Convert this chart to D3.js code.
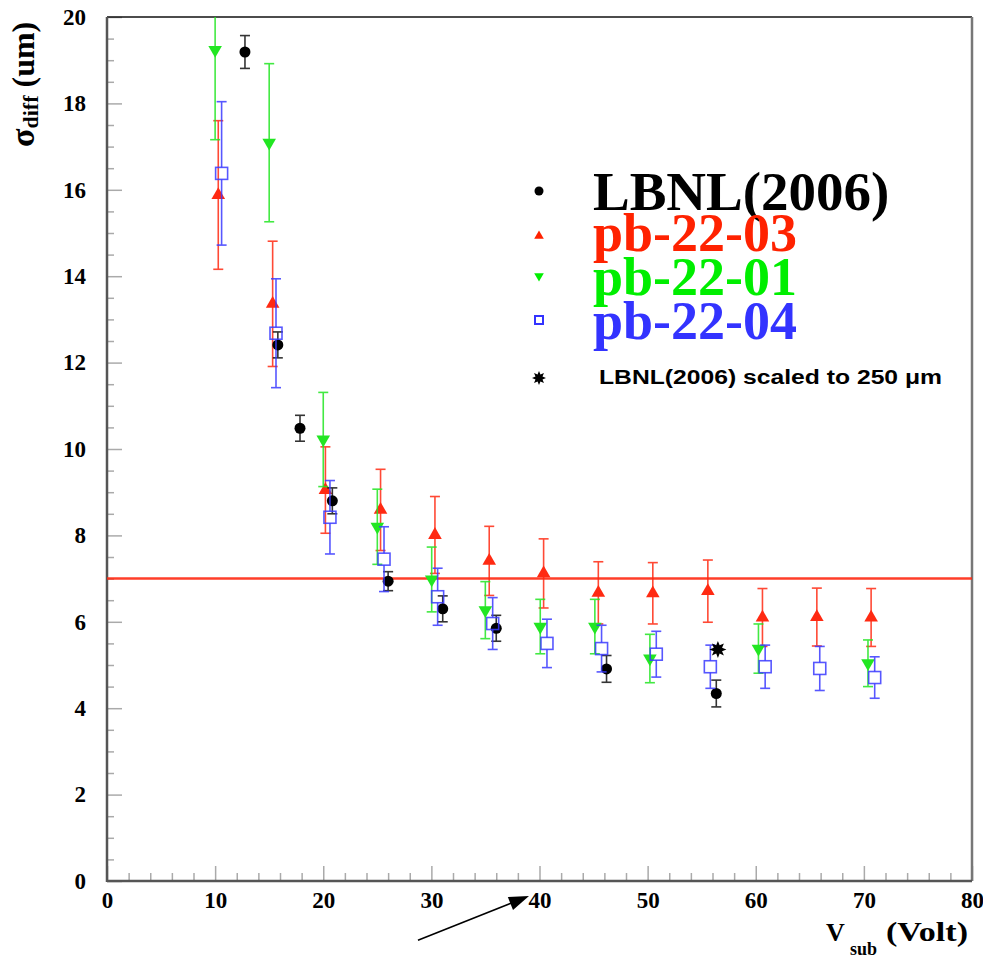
<!DOCTYPE html>
<html>
<head>
<meta charset="utf-8">
<script src="https://cdn.jsdelivr.net/npm/d3@7"></script>
<style>
  body { margin: 0; background: #fff; }
  svg { display: block; }
</style>
</head>
<body>
<svg id="chart" width="983" height="958"></svg>
<script>
// values: [Vsub, sigma, error]
var lbnl = [
  [12.76, 19.19, 0.38], [15.8, 12.41, 0.3], [17.85, 10.48, 0.3], [20.84, 8.80, 0.3],
  [26.0, 6.94, 0.22], [31.05, 6.30, 0.3], [36.0, 5.85, 0.3], [46.2, 4.91, 0.31],
  [56.35, 4.34, 0.31]
];
var pb2203 = [
  [10.29, 15.88, 1.72], [15.32, 13.36, 1.45], [20.2, 9.05, 1.0], [25.3, 8.59, 0.94],
  [30.33, 8.01, 0.89], [35.35, 7.41, 0.8], [40.38, 7.12, 0.8], [45.44, 6.67, 0.72],
  [50.48, 6.66, 0.71], [55.57, 6.71, 0.72], [60.62, 6.10, 0.67], [65.65, 6.11, 0.67],
  [70.67, 6.10, 0.67]
];
var pb2201 = [
  [10.0, 19.24, 2.08], [15.0, 17.09, 1.83], [20.0, 10.22, 1.09], [25.0, 8.20, 0.87],
  [30.03, 6.98, 0.75], [34.99, 6.27, 0.66], [40.07, 5.89, 0.63], [45.12, 5.89, 0.63],
  [50.21, 5.15, 0.56], [60.25, 5.38, 0.57], [70.38, 5.04, 0.54]
];
var pb2204 = [
  [10.6, 16.38, 1.66], [15.63, 12.68, 1.26], [20.62, 8.42, 0.85], [25.62, 7.45, 0.75],
  [30.58, 6.58, 0.66], [35.67, 5.96, 0.6], [40.69, 5.50, 0.56], [45.74, 5.38, 0.54],
  [50.8, 5.25, 0.53], [55.8, 4.96, 0.5], [60.87, 4.96, 0.5], [65.92, 4.92, 0.51],
  [71.0, 4.71, 0.48]
];
var scaled = [[56.5, 5.36]];   // LBNL(2006) scaled to 250 um
var fitLevel = 7;
var arrowLine = [[28.76, -1.37], [39.03, -0.35]];

var xMajor = [0, 10, 20, 30, 40, 50, 60, 70, 80];
var yMajor = [0, 2, 4, 6, 8, 10, 12, 14, 16, 18, 20];

var legendItems = [
  {name: "LBNL(2006)", col: "#000000", mark: "circle"},
  {name: "pb-22-03", col: "#ff2200", mark: "up"},
  {name: "pb-22-01", col: "#00ee00", mark: "down"},
  {name: "pb-22-04", col: "#3333ff", mark: "square"}
];

var cRed = "#ff2a12", cGreen = "#22e622", cBlue = "#3a3aff";

var pLeft = 107, pRight = 972, pTop = 17, pBottom = 881;
var x = d3.scaleLinear().domain([0, 80]).range([pLeft, pRight]);
var y = d3.scaleLinear().domain([0, 20]).range([pBottom, pTop]);

var svg = d3.select("#chart");

svg.append("defs").append("clipPath").attr("id", "plotclip")
  .append("rect").attr("x", pLeft).attr("y", pTop).attr("width", pRight - pLeft).attr("height", pBottom - pTop);

// minor ticks
var yMinor = d3.range(0, 20.01, 0.5).filter(d => yMajor.indexOf(d) < 0);
var xMinor = d3.range(0, 80.01, 2).filter(d => xMajor.indexOf(d) < 0);

svg.append("g").attr("transform", "translate(" + pLeft + ",0)")
  .call(d3.axisLeft(y).tickValues(yMinor).tickSize(-7).tickFormat(""))
  .call(g => g.select(".domain").remove())
  .call(g => g.selectAll("line").attr("stroke", "#aaa").attr("stroke-width", 1.5));
svg.append("g").attr("transform", "translate(0," + pBottom + ")")
  .call(d3.axisBottom(x).tickValues(xMinor).tickSize(-8).tickFormat(""))
  .call(g => g.select(".domain").remove())
  .call(g => g.selectAll("line").attr("stroke", "#aaa").attr("stroke-width", 1.5));

// major ticks + labels
svg.append("g").attr("transform", "translate(" + pLeft + ",0)")
  .call(d3.axisLeft(y).tickValues(yMajor).tickSize(-15).tickPadding(21).tickFormat(d3.format("d")))
  .call(g => g.select(".domain").remove())
  .call(g => g.selectAll("line").attr("stroke", "#aaa").attr("stroke-width", 1.5))
  .call(g => g.selectAll("text").attr("font-family", "Liberation Serif").attr("font-weight", "bold")
    .attr("font-size", 23).attr("fill", "#000"));
svg.append("g").attr("transform", "translate(0," + pBottom + ")")
  .call(d3.axisBottom(x).tickValues(xMajor).tickSize(-15).tickPadding(11).tickFormat(d3.format("d")))
  .call(g => g.select(".domain").remove())
  .call(g => g.selectAll("line").attr("stroke", "#aaa").attr("stroke-width", 1.5))
  .call(g => g.selectAll("text").attr("font-family", "Liberation Serif").attr("font-weight", "bold")
    .attr("font-size", 23).attr("fill", "#000"));

// frame
svg.append("line").attr("x1", pLeft).attr("x2", pRight).attr("y1", pTop).attr("y2", pTop)
  .attr("stroke", "#111").attr("stroke-width", 1.5);
svg.append("line").attr("x1", pRight).attr("x2", pRight).attr("y1", pTop).attr("y2", pBottom)
  .attr("stroke", "#777").attr("stroke-width", 2.5);
svg.append("line").attr("x1", pLeft).attr("x2", pLeft).attr("y1", pTop).attr("y2", pBottom + 1)
  .attr("stroke", "#555").attr("stroke-width", 2.5);
svg.append("line").attr("x1", pLeft).attr("x2", pRight).attr("y1", pBottom).attr("y2", pBottom)
  .attr("stroke", "#555").attr("stroke-width", 2.5);

var plot = svg.append("g").attr("clip-path", "url(#plotclip)");

// fit level line
plot.append("line").attr("x1", x(0)).attr("x2", x(80)).attr("y1", y(fitLevel)).attr("y2", y(fitLevel))
  .attr("stroke", cRed).attr("stroke-width", 2.5).attr("opacity", 0.9);

function errorBars(data, col, gap) {
  var g = plot.append("g").attr("stroke", col).attr("stroke-width", 1.6).attr("opacity", 0.85);
  data.forEach(function (d) {
    var cx = x(d[0]), yt = y(d[1] + d[2]), yb = y(d[1] - d[2]), yc = y(d[1]);
    if (gap) {
      g.append("line").attr("x1", cx).attr("x2", cx).attr("y1", yt).attr("y2", yc - gap);
      g.append("line").attr("x1", cx).attr("x2", cx).attr("y1", yc + gap).attr("y2", yb);
    } else {
      g.append("line").attr("x1", cx).attr("x2", cx).attr("y1", yt).attr("y2", yb);
    }
    g.append("line").attr("x1", cx - 5).attr("x2", cx + 5).attr("y1", yt).attr("y2", yt);
    g.append("line").attr("x1", cx - 5).attr("x2", cx + 5).attr("y1", yb).attr("y2", yb);
  });
}

var triUp = d3.symbol().type(d3.symbolTriangle).size(80);

errorBars(pb2203, cRed, 0);
plot.append("g").selectAll("path").data(pb2203).join("path")
  .attr("d", triUp).attr("fill", cRed)
  .attr("transform", d => "translate(" + x(d[0]) + "," + y(d[1]) + ")");

errorBars(pb2201, cGreen, 0);
plot.append("g").selectAll("path").data(pb2201).join("path")
  .attr("d", triUp).attr("fill", cGreen)
  .attr("transform", d => "translate(" + x(d[0]) + "," + y(d[1]) + ") rotate(180)");

errorBars(lbnl, "#111", 0);
plot.append("g").selectAll("circle").data(lbnl).join("circle")
  .attr("cx", d => x(d[0])).attr("cy", d => y(d[1])).attr("r", 5.5).attr("fill", "#000");

errorBars(pb2204, cBlue, 6);
plot.append("g").selectAll("rect").data(pb2204).join("rect")
  .attr("x", d => x(d[0]) - 6).attr("y", d => y(d[1]) - 6).attr("width", 12).attr("height", 12)
  .attr("fill", "none").attr("stroke", cBlue).attr("stroke-width", 1.6).attr("opacity", 0.85);

// 8-point star marker
function starPath(ro, ri) {
  var pts = d3.range(16).map(function (i) {
    var a = i * Math.PI / 8;
    var r = i % 2 ? ri : ro;
    return [a, r];
  });
  return d3.lineRadial().curve(d3.curveLinearClosed)(pts);
}
plot.append("g").selectAll("path").data(scaled).join("path")
  .attr("d", starPath(8.5, 4.5)).attr("fill", "#000")
  .attr("transform", d => "translate(" + x(d[0]) + "," + y(d[1]) + ")");

// legend
var lg = svg.append("g");
var legY = [210, 251, 295, 339];
var markY = [191, 236, 276, 320];
legendItems.forEach(function (it, i) {
  lg.append("text").attr("x", 593).attr("y", legY[i])
    .attr("font-family", "Liberation Serif").attr("font-weight", "bold")
    .attr("font-size", i === 0 ? 55 : 54).attr("fill", it.col).text(it.name);
  if (it.mark === "circle") {
    lg.append("circle").attr("cx", 539).attr("cy", markY[i]).attr("r", 4.5).attr("fill", it.col);
  } else if (it.mark === "up" || it.mark === "down") {
    lg.append("path").attr("d", d3.symbol().type(d3.symbolTriangle).size(40)).attr("fill", it.col)
      .attr("transform", "translate(539," + markY[i] + ")" + (it.mark === "down" ? " rotate(180)" : ""));
  } else {
    lg.append("rect").attr("x", 535).attr("y", markY[i] - 4).attr("width", 8).attr("height", 8)
      .attr("fill", "none").attr("stroke", it.col).attr("stroke-width", 2);
  }
});
lg.append("path").attr("d", starPath(7, 3.8)).attr("fill", "#000").attr("transform", "translate(539,378)");
lg.append("text").attr("x", 599).attr("y", 384)
  .attr("font-family", "Liberation Sans").attr("font-weight", "bold").attr("font-size", 20)
  .attr("textLength", 343).attr("lengthAdjust", "spacingAndGlyphs")
  .text("LBNL(2006) scaled to 250 \u03bcm");

// axis titles
var yt = svg.append("text").attr("transform", "translate(34,147) rotate(-90)")
  .attr("font-family", "Liberation Serif").attr("font-weight", "bold").attr("fill", "#000");
yt.append("tspan").attr("font-size", 34).text("\u03c3");
yt.append("tspan").attr("font-size", 22).attr("dy", 4).text("diff");
yt.append("tspan").attr("font-size", 32).attr("dy", -4).text(" (um)");

var xt = svg.append("g").attr("font-family", "Liberation Serif").attr("font-weight", "bold").attr("fill", "#000");
xt.append("text").attr("x", 826).attr("y", 941).attr("font-size", 26).text("V");
xt.append("text").attr("x", 850).attr("y", 955).attr("font-size", 18).text("sub");
xt.append("text").attr("x", 886).attr("y", 941).attr("font-size", 27)
  .attr("textLength", 82).attr("lengthAdjust", "spacingAndGlyphs").text("(Volt)");

// arrow annotation
var ax0 = x(arrowLine[0][0]), ay0 = y(arrowLine[0][1]), ax1 = x(arrowLine[1][0]), ay1 = y(arrowLine[1][1]);
var ang = Math.atan2(ay1 - ay0, ax1 - ax0);
svg.append("line").attr("x1", ax0).attr("y1", ay0)
  .attr("x2", ax1 - 14 * Math.cos(ang)).attr("y2", ay1 - 14 * Math.sin(ang))
  .attr("stroke", "#000").attr("stroke-width", 1.6);
svg.append("path").attr("d", "M0,0L-20,-7L-20,7Z").attr("fill", "#000")
  .attr("transform", "translate(" + ax1 + "," + ay1 + ") rotate(" + (ang * 180 / Math.PI) + ")");
</script>
</body>
</html>
